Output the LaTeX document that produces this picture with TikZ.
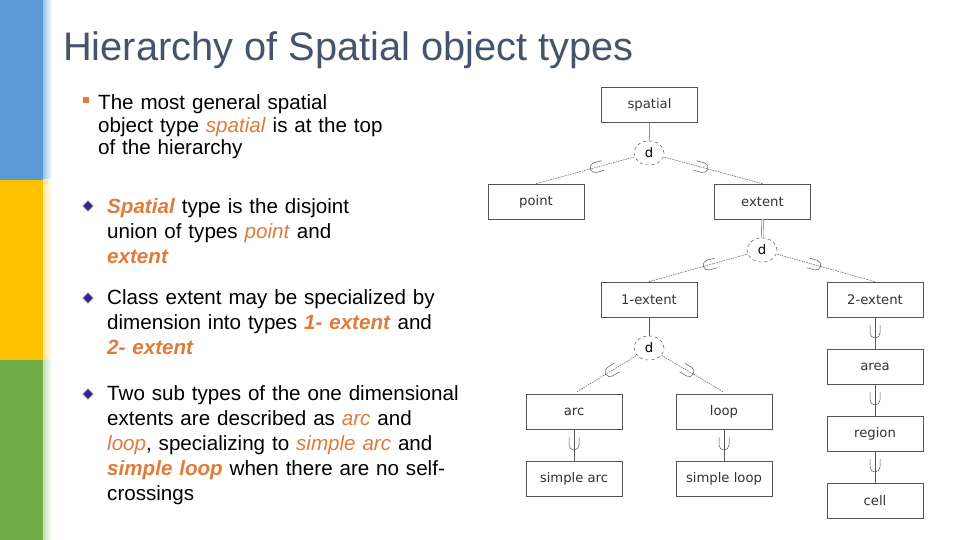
\documentclass[tikz,border=0pt]{standalone}
\usepackage{fontspec}
\setmainfont{Liberation Sans}
\newfontfamily\boxfont{DejaVu Sans}
\usetikzlibrary{shapes.geometric,decorations.markings,calc}
\definecolor{ttl}{HTML}{44546A}
\definecolor{org}{HTML}{E07B39}
\definecolor{bblue}{HTML}{5B9BD5}
\definecolor{byel}{HTML}{FFC000}
\definecolor{bgreen}{HTML}{70AD47}
\definecolor{dia}{HTML}{3B1F8C}
\definecolor{ln}{HTML}{555555}
\tikzset{
  cls/.style={draw=ln,line width=0.6pt,minimum width=96pt,minimum height=35pt,inner sep=0pt,font=\boxfont\fontsize{13.2}{15}\selectfont,text=black!80},
  dnode/.style={ellipse,draw=ln,dashed,line width=0.5pt,minimum width=30pt,minimum height=24pt,inner sep=0pt,font=\boxfont\fontsize{13.2}{15}\selectfont},
  conn/.style={draw=ln,line width=0.5pt},
  dconn/.style={conn,dash pattern=on 1.5pt off 1pt},
  sub/.style={postaction={decorate},decoration={markings,mark=at position #1 with {\draw[ln,line width=0.5pt,solid] (8pt,-5pt) -- (0,-5pt) arc(270:90:5pt) -- (8pt,5pt);}}},
  txt/.style={anchor=base west,font=\fontsize{20.6}{25}\selectfont,align=left,text=black},
}
\newcommand{\hl}[1]{\textcolor{org}{\textit{#1}}}
\newcommand{\hb}[1]{\textcolor{org}{\textbf{\textit{#1}}}}
\begin{document}
\begin{tikzpicture}[x=1pt,y=-1pt]
\useasboundingbox (0,0) rectangle (960,540);
\fill[white] (0,0) rectangle (960,540);
\fill[bblue] (0,0) rectangle (43,180);
\fill[byel] (0,180) rectangle (43,360);
\fill[bgreen] (0,360) rectangle (43,540);
\shade[left color=bblue!60,right color=white] (43,0) rectangle (52,180);
\shade[left color=byel!40,right color=white] (43,180) rectangle (52,360);
\shade[left color=bgreen!40,right color=white] (43,360) rectangle (52,540);
\node[anchor=base west,font=\fontsize{39.8}{44}\selectfont,text=ttl,inner sep=0] (title) at (63,61) {Hierarchy of Spatial object types};
% bullets
\fill[org] (83,97) rectangle (89,103);
\node[txt,inner sep=0,text width=360pt,font=\fontsize{20.6}{22.5}\selectfont] (t1) at (98,110) {The most general spatial\\object type \hl{spatial} is at the top\\of the hierarchy};
\foreach \yy/\nm in {206/b1,298/b2,394/b3}{
  \node[diamond,draw=gray!60,fill=dia,minimum size=11pt,inner sep=0,line width=0.8pt] (\nm) at (88,\yy) {};
}
\node[txt,inner sep=0,text width=380pt] (t2) at (107,213) {\hb{Spatial} type is the disjoint\\union of types \hl{point} and\\\hb{extent}};
\node[txt,inner sep=0,text width=380pt] (t3) at (107,304) {Class extent may be specialized by\\dimension into types \hb{1- extent} and\\\hb{2- extent}};
\node[txt,inner sep=0,text width=380pt] (t4) at (107,400) {Two sub types of the one dimensional\\extents are described as \hl{arc} and\\\hl{loop}, specializing to \hl{simple arc} and\\\hb{simple loop} when there are no self-\\crossings};
% diagram
\node[cls] (spatial) at (649.5,104.5) {spatial};
\node[cls] (point) at (536,201.5) {point};
\node[cls] (extent) at (762.5,201.5) {extent};
\node[cls] (e1) at (649,299.5) {1-extent};
\node[cls] (e2) at (875,299.5) {2-extent};
\node[cls] (arc) at (574,411.5) {arc};
\node[cls] (loop) at (724,411.5) {loop};
\node[cls] (sarc) at (574,478.5) {simple arc};
\node[cls] (sloop) at (724,478.5) {simple loop};
\node[cls] (area) at (875,366.5) {area};
\node[cls] (region) at (875,433.5) {region};
\node[cls] (cell) at (875,500.5) {cell};
\node[dnode] (d1) at (649,153) {d};
\node[dnode] (d2) at (762,250) {d};
\node[dnode] (d3) at (649,348) {d};
\draw[conn] (spatial.south) -- (d1);
\draw[dconn,sub=0.6] (point.north) -- (d1);
\draw[dconn,sub=0.6] (extent.north) -- (d1);
\draw[conn,double,double distance=1.5pt,line width=0.4pt] (extent.south) -- (d2);
\draw[dconn,sub=0.6] (e1.north) -- (d2);
\draw[dconn,sub=0.6] (e2.north) -- (d2);
\draw[conn] (e1.south) -- (d3);
\draw[dconn,sub=0.55] ($(arc.north)+(3,-2)$) coordinate (ca) -- (d3);
\draw[dconn,sub=0.55] ($(loop.north)+(-1,-2)$) coordinate (cl) -- (d3);
\draw[conn,sub=0.5] (sarc.north) -- (arc.south);
\draw[conn,sub=0.5] (sloop.north) -- (loop.south);
\draw[conn,sub=0.5] (area.north) -- (e2.south);
\draw[conn,sub=0.5] (region.north) -- (area.south);
\draw[conn,sub=0.5] (cell.north) -- (region.south);
\end{tikzpicture}
\end{document}
